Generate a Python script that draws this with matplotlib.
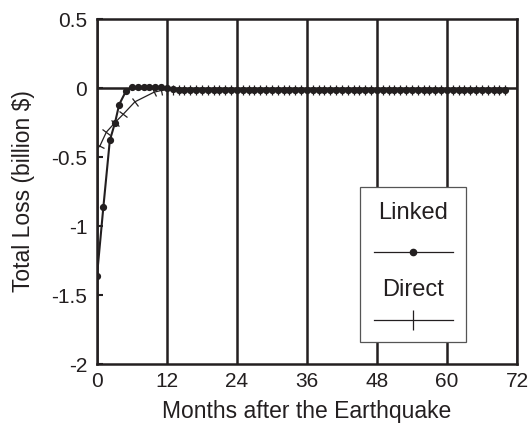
import matplotlib
matplotlib.use("Agg")
import matplotlib.pyplot as plt
import numpy as np
from matplotlib.markers import MarkerStyle
from matplotlib.transforms import Affine2D
from matplotlib.lines import Line2D
from matplotlib.patches import Rectangle

plt.rcParams['font.family'] = ['Liberation Sans', 'DejaVu Sans']
plt.rcParams['axes.unicode_minus'] = False

# ---- data ----
linked_months = [0, 1.1, 2.2, 3.1, 3.8, 5, 6, 7, 8, 9, 10, 11, 12, 13] + list(range(14, 71))
linked_values = [-1.36, -0.86, -0.38, -0.25, -0.12, -0.02, 0.005, 0.008, 0.01, 0.01, 0.01, 0.006,
                 0.0, -0.005] + [-0.012] * len(range(14, 71))

direct_months = [0, 0.5, 1.6, 3.1, 4.5, 6.5, 9.8, 11, 12, 13] + list(range(14, 71))
direct_values = [-0.44, -0.42, -0.32, -0.25, -0.19, -0.10, -0.03, -0.018, -0.012, -0.012] + \
                [-0.012] * len(range(14, 71))

xticks = [0, 12, 24, 36, 48, 60, 72]
yticks = [-2, -1.5, -1, -0.5, 0, 0.5]
ytick_labels = ['-2', '-1.5', '-1', '-0.5', '0', '0.5']
legend_labels = ['Linked', 'Direct']
xlabel = 'Months after the Earthquake'
ylabel = 'Total Loss (billion $)'

FS_TICK = 15
FS_LABEL = 16.5
FS_LEG = 17
INK = '#231f20'

fig = plt.figure(figsize=(5.32, 4.28), dpi=100)
ax = fig.add_axes([0.1823, 0.1495, 0.9718 - 0.1823, 0.9556 - 0.1495])
ax.set_xlim(0, 72)
ax.set_ylim(-2, 0.5)

for s in ax.spines.values():
    s.set_linewidth(1.8)
    s.set_color(INK)

ax.set_xticks(xticks)
ax.set_xticklabels([str(t) for t in xticks], fontsize=FS_TICK, color=INK)
ax.set_yticks(yticks)
ax.set_yticklabels(ytick_labels, fontsize=FS_TICK, color=INK)
ax.tick_params(axis='x', length=0, pad=6)
ax.tick_params(axis='y', direction='in', length=4, width=1.5, pad=7, color=INK)
ax.xaxis.grid(True, color=INK, linewidth=1.8)
ax.set_axisbelow(True)

ax.set_xlabel(xlabel, fontsize=FS_LABEL, color=INK, labelpad=6)
ax.set_ylabel(ylabel, fontsize=FS_LABEL, color=INK, labelpad=12)

ax.axhline(0, color=INK, linewidth=1.8, zorder=2)

# Linked
ax.plot(linked_months, linked_values, color=INK, linewidth=1.5, marker='o',
        markersize=4.2, zorder=4)

# Direct line
ax.plot(direct_months, direct_values, color=INK, linewidth=0.9, zorder=3)

# Direct markers: ticks perpendicular to the curve
fig.canvas.draw()
pts = ax.transData.transform(np.column_stack([direct_months, direct_values]))
n = len(pts)
for i in range(1, n):
    j0 = max(i - 1, 0)
    j1 = min(i + 1, n - 1)
    dx = pts[j1, 0] - pts[j0, 0]
    dy = pts[j1, 1] - pts[j0, 1]
    ang = np.degrees(np.arctan2(dy, dx))
    ms = MarkerStyle('|', transform=Affine2D().rotate_deg(ang))
    ax.plot([direct_months[i]], [direct_values[i]], linestyle='none', marker=ms,
            markersize=7, markeredgewidth=0.9, color=INK, zorder=3)

# Legend box (text above line sample)
box_x0, box_y0, box_w, box_h = 0.626, 0.064, 0.253, 0.449
ax.add_patch(Rectangle((box_x0, box_y0), box_w, box_h, transform=ax.transAxes,
                       facecolor='white', edgecolor='#555555', linewidth=0.9, zorder=10))
cx = box_x0 + box_w / 2
hw = 0.094
ax.text(cx, 0.437, legend_labels[0], transform=ax.transAxes, ha='center', va='center',
        fontsize=FS_LEG, color=INK, zorder=11)
ax.add_line(Line2D([cx - hw, cx + hw], [0.325, 0.325], transform=ax.transAxes,
                   color=INK, linewidth=0.9, zorder=11))
ax.add_line(Line2D([cx], [0.325], transform=ax.transAxes, marker='o', markersize=4.5,
                   color=INK, zorder=12))
ax.text(cx, 0.214, legend_labels[1], transform=ax.transAxes, ha='center', va='center',
        fontsize=FS_LEG, color=INK, zorder=11)
ax.add_line(Line2D([cx - hw, cx + hw], [0.128, 0.128], transform=ax.transAxes,
                   color=INK, linewidth=0.9, zorder=11))
ax.add_line(Line2D([cx], [0.128], transform=ax.transAxes, marker='|', markersize=15,
                   markeredgewidth=0.9, color=INK, zorder=12))

fig.savefig('out.png', dpi=100)
